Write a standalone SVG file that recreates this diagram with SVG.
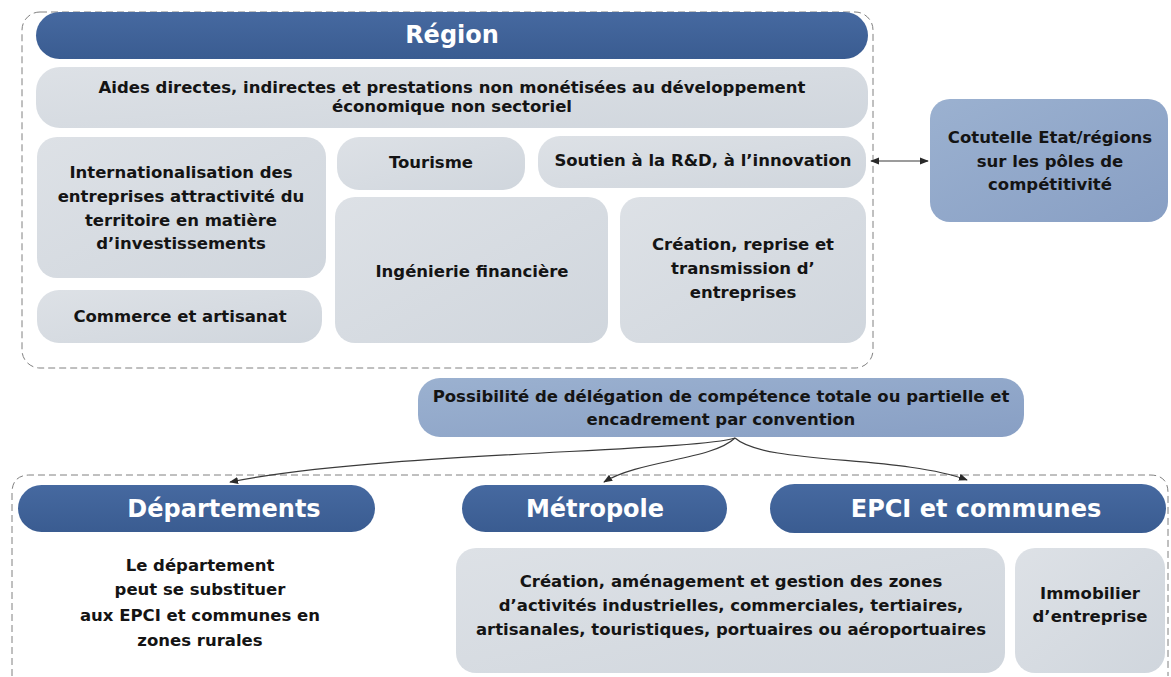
<svg xmlns="http://www.w3.org/2000/svg" width="1171" height="677" viewBox="0 0 1171 677">
<defs>
<style>
text{font-family:"DejaVu Sans","Liberation Sans",sans-serif;font-weight:bold;text-anchor:middle;}
.b{font-size:16.5px;fill:#141414;}
.h{font-size:24px;fill:#ffffff;}
.hdr{fill:url(#gDark);}
.gray{fill:url(#gGray);}
.blue{fill:url(#gBlue);}
.dash{fill:none;stroke:#808080;stroke-width:1;stroke-dasharray:7 4;}
.con{fill:none;stroke:#3a3a3a;stroke-width:1.2;}
</style>
<linearGradient id="gDark" x1="0" y1="0" x2="0" y2="1"><stop offset="0" stop-color="#4669a0"/><stop offset="1" stop-color="#3a5c91"/></linearGradient>
<linearGradient id="gGray" x1="0" y1="0" x2="1" y2="1"><stop offset="0" stop-color="#dde1e6"/><stop offset="1" stop-color="#d0d6dd"/></linearGradient>
<linearGradient id="gBlue" x1="0" y1="0" x2="1" y2="1"><stop offset="0" stop-color="#9bb1d0"/><stop offset="1" stop-color="#889fc4"/></linearGradient>
<marker id="ar" viewBox="0 0 10 10" refX="9" refY="5" markerWidth="9" markerHeight="9" markerUnits="userSpaceOnUse" orient="auto-start-reverse"><path d="M0,1 L10,5 L0,9 Z" fill="#2a2a2a"/></marker>
</defs>
<rect width="1171" height="677" fill="#ffffff"/>

<g id="region-container"><rect class="dash" x="22" y="12" width="851" height="356" rx="18"/></g>
<g id="region"><rect class="hdr" x="36" y="12" width="832" height="47" rx="23.5"/><text class="h" x="452" y="43">Région</text></g>
<g id="aides"><rect class="gray" x="36" y="67" width="832" height="61" rx="24"/><text class="b" x="452" y="93">Aides directes, indirectes et prestations non monétisées au développement</text><text class="b" x="452" y="112">économique non sectoriel</text></g>
<g id="international"><rect class="gray" x="37" y="137" width="289" height="141" rx="20"/><text class="b" x="181" y="178">Internationalisation des</text><text class="b" x="181" y="202">entreprises attractivité du</text><text class="b" x="181" y="226">territoire en matière</text><text class="b" x="181" y="249">d’investissements</text></g>
<g id="commerce"><rect class="gray" x="37" y="290" width="285" height="53" rx="22"/><text class="b" x="180" y="322">Commerce et artisanat</text></g>
<g id="tourisme"><rect class="gray" x="337" y="137" width="188" height="53" rx="22"/><text class="b" x="431" y="168">Tourisme</text></g>
<g id="soutien"><rect class="gray" x="538" y="136" width="328" height="52" rx="22"/><text class="b" x="703" y="166">Soutien à la R&amp;D, à l’innovation</text></g>
<g id="ingenierie"><rect class="gray" x="335" y="197" width="273" height="146" rx="20"/><text class="b" x="472" y="277">Ingénierie financière</text></g>
<g id="creation"><rect class="gray" x="620" y="197" width="246" height="146" rx="20"/><text class="b" x="743" y="250">Création, reprise et</text><text class="b" x="743" y="274">transmission d’</text><text class="b" x="743" y="298">entreprises</text></g>
<g id="cotutelle"><rect class="blue" x="930" y="99" width="238" height="123" rx="20"/><text class="b" x="1050" y="143">Cotutelle Etat/régions</text><text class="b" x="1050" y="167">sur les pôles de</text><text class="b" x="1050" y="190">compétitivité</text></g>
<g id="possibilite"><rect class="blue" x="418" y="378" width="606" height="59" rx="22"/><text class="b" x="721" y="402">Possibilité de délégation de compétence totale ou partielle et</text><text class="b" x="721" y="425">encadrement par convention</text></g>

<g id="bottom-container"><path class="dash" d="M12,676 L12,493 Q12,475 30,475 L1150,475 Q1168,475 1168,493 L1168,676"/></g>
<g id="departements"><rect class="hdr" x="18" y="485" width="357" height="47" rx="23.5"/><text class="h" x="224" y="517">Départements</text><text class="b" x="200" y="571">Le département</text><text class="b" x="200" y="595">peut se substituer</text><text class="b" x="200" y="621">aux EPCI et communes en</text><text class="b" x="200" y="646">zones rurales</text></g>
<g id="metropole"><rect class="hdr" x="462" y="485" width="265" height="47" rx="23.5"/><text class="h" x="595" y="517">Métropole</text></g>
<g id="epci"><rect class="hdr" x="770" y="484" width="396" height="49" rx="24.5"/><text class="h" x="976" y="517">EPCI et communes</text></g>
<g id="zones"><rect class="gray" x="456" y="548" width="549" height="125" rx="20"/><text class="b" x="731" y="587">Création, aménagement et gestion des zones</text><text class="b" x="731" y="611">d’activités industrielles, commerciales, tertiaires,</text><text class="b" x="731" y="635">artisanales, touristiques, portuaires ou aéroportuaires</text></g>
<g id="immobilier"><rect class="gray" x="1015" y="548" width="150" height="125" rx="20"/><text class="b" x="1090" y="599">Immobilier</text><text class="b" x="1090" y="622">d’entreprise</text></g>

<g id="connectors">
<path class="con" d="M871,161 L928,161" marker-start="url(#ar)" marker-end="url(#ar)"/>
<path class="con" d="M735,438 C690,452 380,452 230,482" marker-end="url(#ar)"/>
<path class="con" d="M735,438 C712,460 640,460 604,482" marker-end="url(#ar)"/>
<path class="con" d="M735,438 C765,465 900,455 967,480" marker-end="url(#ar)"/>
</g>
</svg>
